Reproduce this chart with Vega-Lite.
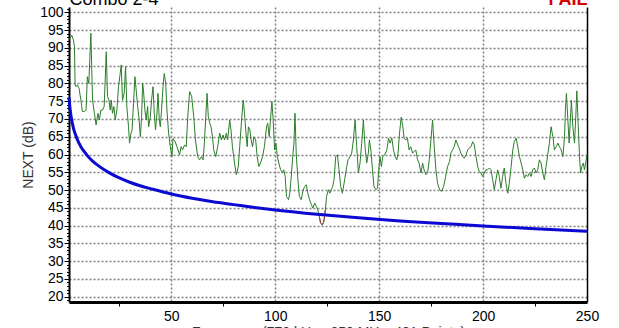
{
  "$schema": "https://vega.github.io/schema/vega-lite/v6.json",
  "width": 518,
  "height": 295,
  "autosize": {"type": "none"},
  "padding": {"left": 69, "top": 7, "right": 32, "bottom": 26},
  "background": "white",
  "config": {"view": {"stroke": null}, "font": "Liberation Sans"},
  "datasets": {
    "pair": [
      {"f":0.8,"db":92.5},{"f":1.3,"db":92.7},{"f":2.1,"db":93.6},{"f":2.9,"db":92.2},{"f":3.4,"db":90.3},{"f":3.7,"db":79.6},{"f":4.2,"db":79.1},{"f":4.8,"db":79.6},{"f":5.6,"db":78.6},{"f":6.5,"db":75.3},{"f":7.2,"db":72.1},{"f":8.2,"db":72.1},{"f":9.0,"db":72.5},{"f":9.6,"db":81.9},{"f":10.3,"db":80.0},{"f":11.3,"db":94.1},{"f":12.1,"db":75.3},{"f":13.0,"db":71.6},{"f":13.8,"db":68.3},{"f":14.7,"db":71.6},{"f":15.4,"db":69.7},{"f":16.1,"db":72.5},{"f":16.9,"db":72.5},{"f":17.7,"db":73.5},{"f":18.7,"db":88.9},{"f":19.3,"db":76.3},{"f":20.0,"db":75.3},{"f":20.6,"db":72.5},{"f":21.1,"db":75.3},{"f":21.7,"db":71.6},{"f":22.4,"db":73.5},{"f":23.0,"db":69.7},{"f":23.8,"db":72.5},{"f":24.6,"db":79.1},{"f":25.4,"db":82.8},{"f":25.9,"db":85.2},{"f":26.5,"db":75.3},{"f":27.3,"db":77.2},{"f":28.0,"db":84.7},{"f":28.6,"db":73.5},{"f":29.4,"db":67.8},{"f":29.9,"db":63.2},{"f":30.6,"db":66.0},{"f":31.1,"db":66.9},{"f":31.8,"db":74.4},{"f":32.5,"db":81.9},{"f":33.1,"db":78.1},{"f":33.8,"db":73.5},{"f":34.4,"db":70.6},{"f":35.1,"db":65.0},{"f":35.7,"db":70.6},{"f":36.2,"db":80.0},{"f":36.6,"db":78.1},{"f":37.3,"db":72.5},{"f":37.9,"db":69.7},{"f":38.6,"db":73.5},{"f":39.1,"db":67.8},{"f":39.9,"db":70.6},{"f":40.5,"db":75.3},{"f":41.2,"db":79.1},{"f":41.8,"db":71.6},{"f":42.4,"db":66.9},{"f":43.1,"db":71.6},{"f":43.6,"db":77.2},{"f":44.2,"db":69.7},{"f":44.7,"db":67.8},{"f":45.3,"db":72.5},{"f":46.0,"db":79.1},{"f":46.6,"db":82.8},{"f":47.3,"db":80.0},{"f":47.9,"db":72.5},{"f":48.7,"db":66.0},{"f":49.5,"db":62.2},{"f":50.3,"db":59.4},{"f":50.8,"db":64.5},{"f":51.9,"db":63.6},{"f":52.7,"db":62.2},{"f":54.0,"db":59.9},{"f":54.7,"db":62.2},{"f":55.4,"db":61.3},{"f":56.4,"db":62.7},{"f":57.2,"db":62.2},{"f":57.9,"db":70.6},{"f":58.8,"db":77.7},{"f":59.8,"db":76.3},{"f":60.8,"db":70.6},{"f":61.6,"db":64.1},{"f":62.7,"db":59.4},{"f":63.6,"db":58.5},{"f":64.5,"db":59.4},{"f":65.3,"db":58.5},{"f":65.9,"db":63.2},{"f":66.5,"db":69.7},{"f":67.2,"db":77.2},{"f":67.8,"db":70.6},{"f":68.5,"db":68.8},{"f":69.1,"db":67.8},{"f":69.8,"db":65.0},{"f":70.4,"db":61.3},{"f":71.4,"db":59.4},{"f":72.3,"db":62.2},{"f":73.3,"db":66.0},{"f":74.1,"db":64.1},{"f":74.9,"db":65.5},{"f":75.6,"db":64.1},{"f":76.5,"db":66.0},{"f":77.1,"db":64.1},{"f":78.1,"db":69.7},{"f":78.8,"db":66.4},{"f":79.4,"db":62.2},{"f":80.4,"db":57.6},{"f":81.3,"db":54.3},{"f":82.2,"db":56.6},{"f":82.9,"db":62.2},{"f":83.8,"db":69.7},{"f":84.6,"db":75.3},{"f":85.2,"db":71.6},{"f":85.8,"db":66.9},{"f":86.5,"db":62.2},{"f":87.1,"db":67.8},{"f":87.8,"db":66.9},{"f":88.4,"db":64.1},{"f":89.1,"db":62.2},{"f":89.7,"db":65.0},{"f":90.6,"db":64.1},{"f":91.3,"db":59.4},{"f":92.1,"db":56.6},{"f":92.9,"db":57.6},{"f":93.9,"db":59.4},{"f":94.8,"db":62.2},{"f":95.8,"db":67.8},{"f":96.4,"db":68.8},{"f":97.1,"db":65.0},{"f":97.7,"db":69.7},{"f":98.4,"db":74.9},{"f":99.0,"db":69.7},{"f":99.7,"db":61.3},{"f":100.3,"db":63.2},{"f":101.0,"db":59.4},{"f":101.7,"db":57.6},{"f":102.6,"db":55.7},{"f":103.5,"db":54.8},{"f":104.1,"db":55.7},{"f":104.8,"db":53.8},{"f":105.4,"db":48.2},{"f":106.4,"db":47.3},{"f":107.0,"db":49.1},{"f":107.7,"db":53.8},{"f":108.3,"db":58.5},{"f":109.0,"db":63.2},{"f":109.5,"db":71.6},{"f":110.1,"db":60.4},{"f":110.8,"db":53.8},{"f":111.6,"db":48.2},{"f":112.5,"db":47.3},{"f":113.3,"db":49.6},{"f":114.1,"db":51.0},{"f":114.9,"db":51.5},{"f":115.7,"db":49.1},{"f":116.5,"db":47.3},{"f":117.4,"db":45.9},{"f":118.1,"db":44.9},{"f":119.0,"db":46.3},{"f":119.8,"db":45.4},{"f":120.5,"db":44.4},{"f":121.2,"db":42.6},{"f":121.8,"db":40.7},{"f":122.7,"db":40.2},{"f":123.4,"db":41.2},{"f":124.1,"db":44.4},{"f":124.7,"db":48.2},{"f":125.6,"db":50.1},{"f":126.3,"db":49.1},{"f":127.0,"db":50.1},{"f":127.6,"db":51.0},{"f":128.3,"db":52.9},{"f":129.1,"db":59.4},{"f":129.9,"db":59.9},{"f":130.7,"db":55.7},{"f":131.5,"db":51.0},{"f":132.3,"db":49.1},{"f":133.4,"db":52.9},{"f":134.4,"db":56.6},{"f":135.0,"db":58.5},{"f":136.0,"db":59.4},{"f":136.8,"db":60.4},{"f":137.6,"db":64.1},{"f":138.4,"db":69.7},{"f":139.2,"db":62.2},{"f":140.0,"db":54.8},{"f":140.8,"db":57.6},{"f":141.6,"db":63.2},{"f":142.4,"db":69.7},{"f":143.2,"db":62.2},{"f":144.0,"db":57.6},{"f":144.8,"db":60.4},{"f":145.3,"db":64.1},{"f":146.0,"db":61.3},{"f":146.8,"db":55.7},{"f":147.5,"db":51.0},{"f":148.4,"db":50.1},{"f":149.2,"db":50.5},{"f":149.8,"db":55.7},{"f":150.4,"db":59.4},{"f":151.1,"db":56.6},{"f":151.7,"db":59.4},{"f":152.7,"db":59.9},{"f":153.7,"db":61.3},{"f":154.5,"db":64.6},{"f":155.3,"db":63.2},{"f":156.1,"db":64.6},{"f":156.9,"db":61.3},{"f":157.7,"db":59.4},{"f":158.5,"db":58.5},{"f":159.1,"db":60.4},{"f":159.8,"db":66.0},{"f":160.6,"db":70.5},{"f":161.4,"db":67.8},{"f":162.0,"db":64.6},{"f":162.8,"db":64.1},{"f":163.6,"db":64.6},{"f":164.4,"db":61.3},{"f":165.2,"db":62.2},{"f":166.1,"db":60.4},{"f":166.8,"db":60.8},{"f":167.6,"db":61.3},{"f":168.5,"db":58.5},{"f":169.2,"db":57.6},{"f":170.1,"db":54.8},{"f":170.9,"db":57.6},{"f":171.6,"db":55.7},{"f":172.5,"db":54.3},{"f":173.3,"db":54.8},{"f":174.1,"db":58.5},{"f":174.9,"db":64.1},{"f":175.7,"db":69.7},{"f":176.5,"db":62.2},{"f":177.3,"db":55.7},{"f":178.1,"db":51.9},{"f":179.1,"db":50.1},{"f":180.0,"db":49.6},{"f":181.0,"db":51.0},{"f":182.0,"db":53.8},{"f":182.9,"db":56.6},{"f":183.9,"db":58.0},{"f":184.5,"db":60.4},{"f":185.3,"db":61.3},{"f":186.1,"db":62.2},{"f":186.9,"db":64.1},{"f":187.8,"db":62.7},{"f":188.5,"db":61.8},{"f":189.3,"db":60.4},{"f":190.2,"db":59.4},{"f":190.9,"db":59.0},{"f":191.8,"db":59.9},{"f":192.6,"db":61.3},{"f":193.3,"db":61.8},{"f":194.2,"db":62.2},{"f":195.0,"db":63.6},{"f":195.8,"db":62.7},{"f":196.6,"db":59.4},{"f":197.4,"db":56.6},{"f":198.2,"db":55.2},{"f":199.0,"db":54.8},{"f":199.8,"db":53.8},{"f":200.6,"db":54.8},{"f":201.4,"db":55.7},{"f":202.2,"db":55.7},{"f":203.0,"db":56.2},{"f":203.8,"db":55.7},{"f":204.6,"db":52.9},{"f":205.4,"db":50.1},{"f":206.2,"db":52.9},{"f":207.0,"db":55.7},{"f":207.8,"db":53.8},{"f":208.6,"db":50.5},{"f":209.4,"db":53.8},{"f":210.2,"db":56.2},{"f":211.0,"db":51.9},{"f":211.9,"db":49.1},{"f":212.6,"db":51.9},{"f":213.5,"db":56.6},{"f":214.3,"db":61.3},{"f":215.0,"db":63.6},{"f":215.9,"db":64.6},{"f":216.7,"db":62.2},{"f":217.5,"db":59.4},{"f":218.3,"db":57.6},{"f":219.1,"db":55.7},{"f":219.9,"db":53.3},{"f":220.7,"db":54.3},{"f":221.5,"db":53.8},{"f":222.3,"db":54.8},{"f":223.1,"db":53.8},{"f":223.9,"db":55.7},{"f":224.7,"db":56.2},{"f":225.5,"db":54.8},{"f":226.3,"db":55.7},{"f":227.1,"db":58.5},{"f":227.9,"db":57.6},{"f":228.7,"db":54.8},{"f":229.5,"db":52.9},{"f":230.3,"db":56.6},{"f":231.1,"db":59.9},{"f":231.9,"db":63.2},{"f":232.7,"db":67.8},{"f":233.6,"db":65.0},{"f":234.3,"db":61.3},{"f":235.2,"db":62.2},{"f":236.0,"db":63.2},{"f":236.7,"db":62.2},{"f":237.6,"db":61.3},{"f":238.4,"db":59.4},{"f":239.2,"db":65.0},{"f":239.6,"db":72.5},{"f":240.1,"db":77.2},{"f":240.8,"db":69.7},{"f":241.4,"db":63.2},{"f":242.0,"db":69.7},{"f":242.5,"db":75.3},{"f":243.2,"db":67.8},{"f":244.0,"db":63.2},{"f":244.6,"db":70.6},{"f":245.1,"db":77.9},{"f":245.8,"db":67.8},{"f":246.4,"db":59.4},{"f":246.9,"db":54.8},{"f":247.5,"db":56.6},{"f":248.2,"db":57.6},{"f":248.8,"db":55.7},{"f":249.6,"db":58.5},{"f":250.0,"db":59.9}
    ],
    "fail": [
      {"f":121.2,"db":42.6},{"f":121.8,"db":40.7},{"f":122.7,"db":40.2},{"f":123.4,"db":41.2},{"f":124.1,"db":44.4}
    ],
    "limit": [
      {"f":0.772,"db":76.1},{"f":1,"db":74.4},{"f":1.5,"db":71.8},{"f":2,"db":69.9},{"f":3,"db":67.2},{"f":4,"db":65.4},{"f":5,"db":63.9},{"f":6,"db":62.7},{"f":7,"db":61.7},{"f":8,"db":60.9},{"f":10,"db":59.4},{"f":12,"db":58.2},{"f":15,"db":56.8},{"f":20,"db":54.9},{"f":25,"db":53.4},{"f":30,"db":52.2},{"f":35,"db":51.2},{"f":40,"db":50.4},{"f":50,"db":48.9},{"f":60,"db":47.7},{"f":70,"db":46.7},{"f":80,"db":45.9},{"f":90,"db":45.1},{"f":100,"db":44.4},{"f":120,"db":43.2},{"f":140,"db":42.2},{"f":160,"db":41.3},{"f":180,"db":40.6},{"f":200,"db":39.9},{"f":225,"db":39.1},{"f":250,"db":38.4}
    ]
  },
  "layer": [
    {
      "data": {"name": "pair"},
      "mark": {"type": "line", "color": "#2b7d2b", "strokeWidth": 1},
      "encoding": {
        "x": {
          "field": "f", "type": "quantitative",
          "scale": {"domain": [0.772, 250], "nice": false, "zero": false},
          "axis": {
            "orient": "bottom",
            "values": [25, 50, 75, 100, 125, 150, 175, 200, 225, 250],
            "title": "Frequency (772 kHz - 250 MHz; 401 Points)",
            "titleFont": "Liberation Sans", "titleFontSize": 14, "titleFontWeight": "normal", "titleColor": "#333333", "titlePadding": 2,
            "labelExpr": "datum.value % 50 === 0 ? datum.label : ''",
            "labelFont": "Liberation Sans", "labelFontSize": 14, "labelColor": "#000000", "labelPadding": 3,
            "labelOverlap": false, "labelBound": false, "labelFlush": false,
            "tickSize": 4, "tickColor": "#000000", "tickWidth": 1,
            "tickOpacity": {"condition": {"test": "datum.value % 50 === 0", "value": 0}, "value": 1},
            "domainColor": "#000000", "domainWidth": 3,
            "grid": true, "gridColor": "#808080", "gridDash": [2, 2], "gridWidth": 1.5,
            "gridOpacity": {"condition": {"test": "datum.value % 50 === 0 && datum.value < 250", "value": 1}, "value": 0}
          }
        },
        "y": {
          "field": "db", "type": "quantitative",
          "scale": {"domain": [18.5, 101.5], "nice": false, "zero": false},
          "axis": {
            "orient": "left",
            "values": [19,20,21,22,23,24,25,26,27,28,29,30,31,32,33,34,35,36,37,38,39,40,41,42,43,44,45,46,47,48,49,50,51,52,53,54,55,56,57,58,59,60,61,62,63,64,65,66,67,68,69,70,71,72,73,74,75,76,77,78,79,80,81,82,83,84,85,86,87,88,89,90,91,92,93,94,95,96,97,98,99,100,101],
            "title": "NEXT (dB)",
            "titleFont": "Liberation Sans", "titleFontSize": 14, "titleFontWeight": "normal", "titleColor": "#333333", "titlePadding": 4,
            "labelExpr": "datum.value % 5 === 0 ? datum.label : ''",
            "labelFont": "Liberation Sans", "labelFontSize": 14, "labelColor": "#000000", "labelPadding": 1,
            "labelOverlap": false, "labelBound": false, "labelFlush": false,
            "tickColor": "#000000", "tickWidth": 1,
            "tickSize": {"condition": {"test": "datum.value % 5 === 0", "value": 5}, "value": 2.5},
            "domainColor": "#000000", "domainWidth": 2,
            "grid": true, "gridColor": "#808080", "gridDash": [2, 2], "gridWidth": 1.5,
            "gridOpacity": {"condition": {"test": "datum.value % 5 === 0", "value": 1}, "value": 0}
          }
        }
      }
    },
    {
      "data": {"name": "fail"},
      "mark": {"type": "line", "color": "#a03a3a", "strokeWidth": 1},
      "encoding": {
        "x": {
          "field": "f", "type": "quantitative",
          "axis": {
            "orient": "top", "labels": false, "ticks": false, "grid": false, "domain": false,
            "title": "Combo 2-4", "titleAnchor": "start", "titleColor": "#000000",
            "titleFont": "Liberation Sans", "titleFontSize": 18, "titleFontWeight": "normal",
            "titleBaseline": "alphabetic", "titlePadding": 3
          }
        },
        "y": {"field": "db", "type": "quantitative", "axis": null}
      }
    },
    {
      "data": {"name": "limit"},
      "mark": {"type": "line", "color": "#0a0ad2", "strokeWidth": 3, "interpolate": "monotone"},
      "encoding": {
        "x": {
          "field": "f", "type": "quantitative",
          "axis": {
            "orient": "top", "labels": false, "ticks": false, "grid": false, "domain": false,
            "title": "FAIL", "titleAnchor": "end", "titleColor": "#d40000",
            "titleFont": "Liberation Sans", "titleFontSize": 18, "titleFontWeight": "bold",
            "titleBaseline": "alphabetic", "titlePadding": 3
          }
        },
        "y": {
          "field": "db", "type": "quantitative",
          "axis": {
            "orient": "right", "labels": false, "ticks": false, "grid": false, "title": null,
            "domainColor": "#000000", "domainWidth": 1.5
          }
        }
      }
    }
  ],
  "resolve": {"axis": {"x": "independent", "y": "independent"}}
}
